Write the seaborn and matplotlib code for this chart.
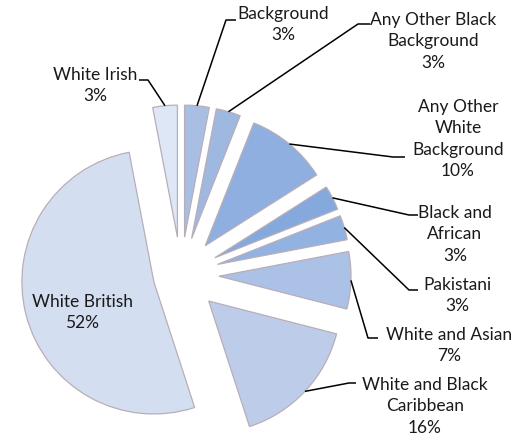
import numpy as np
import matplotlib
matplotlib.use("Agg")
import matplotlib.pyplot as plt
import seaborn as sns

categories = ["Any Other Asian Background", "Any Other Black Background",
              "Any Other White Background", "Black and African", "Pakistani",
              "White and Asian", "White and Black Caribbean", "White British",
              "White Irish"]
shares = [3, 3, 10, 3, 3, 7, 16, 52, 3]
label_texts = ["Background\n3%", "Any Other Black\nBackground\n3%",
               "Any Other\nWhite\nBackground\n10%", "Black and\nAfrican\n3%",
               "Pakistani\n3%", "White and Asian\n7%",
               "White and Black\nCaribbean\n16%", "White British\n52%",
               "White Irish\n3%"]

colors = ["#a9bee3", "#9fb8e0", "#8eafe0", "#85a9dd", "#92b2e1",
          "#abc1e6", "#bdcde9", "#d3dff1", "#dde7f5"]
explode = [38, 38, 38, 38, 38, 38, 38, 28, 38]

W, H = 530, 437
def Y(y):
    return H - y

sns.set_theme(style="white")
plt.rcParams["font.family"] = ["Lato", "DejaVu Sans"]

fig = plt.figure(figsize=(W / 100, H / 100), dpi=100)
ax = fig.add_axes([0, 0, 1, 1])

wedges, _ = ax.pie(shares, explode=explode, colors=colors, startangle=90,
                   counterclock=False, radius=132, center=(181, Y(275)),
                   wedgeprops=dict(edgecolor="#b9aeb8", linewidth=0.9))
ax.set_xlim(0, W)
ax.set_ylim(0, H)
ax.set_aspect("auto")
ax.axis("off")

# label layout: text centre x, top of text block, elbow point, end of horizontal stub
layout = {
    0: dict(tx=283, ty=6, ex=226, ey=20, hx=236),
    1: dict(tx=433, ty=12, ex=358, ey=24, hx=370),
    2: dict(tx=458, ty=99, ex=393, ey=157, hx=405),
    3: dict(tx=455, ty=205, ex=409, ey=215, hx=418),
    4: dict(tx=457, ty=277, ex=409, ey=290, hx=418),
    5: dict(tx=449, ty=327, ex=368, ey=338, hx=378),
    6: dict(tx=425, ty=377, ex=349, ey=383, hx=356),
    8: dict(tx=95, ty=67, ex=148, ey=80, hx=139),
}

for i, w in enumerate(wedges):
    if i == 7:
        continue
    th = np.deg2rad(0.5 * (w.theta1 + w.theta2))
    cx, cy = w.center
    ax0, ay0 = cx + w.r * np.cos(th), cy + w.r * np.sin(th)
    L = layout[i]
    ax.plot([ax0, L["ex"], L["hx"]], [ay0, Y(L["ey"]), Y(L["ey"])],
            color="black", lw=1.1, solid_capstyle="butt")
    ax.text(L["tx"], Y(L["ty"]), label_texts[i], ha="center", va="top",
            fontsize=12.5, linespacing=1.42, color="#1a1a1a")

ax.text(82, Y(294), label_texts[7], ha="center", va="top", fontsize=12.5,
        linespacing=1.42, color="#1a1a1a")

fig.savefig("out.png", dpi=100)
